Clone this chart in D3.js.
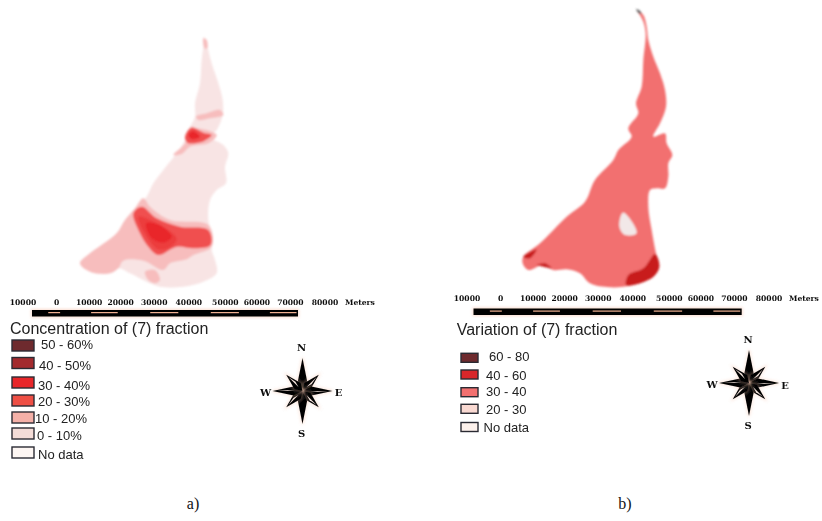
<!DOCTYPE html>
<html>
<head>
<meta charset="utf-8">
<script src="https://cdn.jsdelivr.net/npm/d3@7"></script>
<style>
  html, body { margin: 0; padding: 0; background: #fff; }
  svg { display: block; }
  .legend-title, .legend-label { font-family: "Liberation Sans", Arial, sans-serif; fill: #222; }
  .scale-label, .compass-label { font-family: "DejaVu Serif", serif; font-weight: bold; fill: #111; }
  .panel-label { font-family: "Liberation Serif", serif; font-size: 16px; fill: #111; }
</style>
</head>
<body>
<div id="chart"></div>
<script>
// map shapes are in grid units of 100 m, measured from each panel's own corner
const concentrationOutline = [[432,50],[442,80],[455,130],[475,190],[488,240],[488,285],[470,330],[450,350],[490,375],[505,400],[495,440],[498,490],[470,510],[450,540],[445,600],[455,640],[455,690],[465,720],[470,760],[430,785],[370,800],[300,800],[270,790],[210,760],[175,745],[150,760],[90,755],[60,730],[90,700],[120,680],[170,640],[195,600],[230,565],[260,530],[280,490],[310,450],[350,400],[375,360],[385,330],[405,290],[405,250],[420,190],[425,120],[430,80]];
const concentrationPink = [
  [[60,730],[90,700],[170,640],[195,600],[225,565],[250,535],[270,560],[330,600],[445,615],[455,680],[400,705],[380,718],[330,730],[310,750],[250,722],[190,722],[175,745],[150,760],[90,755]],
  [[255,755],[285,750],[300,780],[285,790],[265,780]],
  [[408,290],[440,280],[480,270],[490,285],[450,295],[415,300]],
  [[340,405],[375,370],[380,340],[395,325],[470,345],[445,370],[390,380],[365,402]],
  [[430,55],[440,60],[442,85],[434,85]]
];
const concentrationRed = [
  [[220,580],[245,560],[290,595],[360,620],[445,630],[452,675],[400,685],[350,680],[295,705],[265,680],[240,640]],
  [[375,352],[395,322],[430,338],[455,345],[425,366],[382,368]]
];
const concentrationMid = [
  [[235,590],[300,615],[350,655],[340,675],[300,690],[270,665]]
];
const concentrationCore = [
  [[258,610],[300,615],[335,650],[310,668],[275,655]],
  [[385,345],[398,332],[420,350],[395,358]]
];

const variationOutline = [[412,30],[430,45],[440,80],[445,120],[460,170],[480,220],[495,270],[498,320],[480,370],[460,410],[495,400],[500,430],[517,465],[505,490],[505,530],[495,565],[470,565],[450,570],[445,620],[455,690],[468,760],[478,800],[460,830],[400,855],[330,862],[270,850],[240,820],[200,808],[160,810],[130,795],[85,810],[68,790],[70,770],[120,730],[200,650],[255,605],[285,540],[340,480],[355,450],[395,410],[385,385],[415,340],[408,310],[425,260],[430,180],[437,100],[430,65]];
const variationHole = [[368,638],[385,650],[410,700],[375,705],[358,680]];
const variationDark = [
  [[465,762],[478,800],[460,830],[400,855],[378,855],[385,825],[430,805]],
  [[70,770],[110,748],[90,775]],
  [[110,795],[135,790],[155,805],[130,800]]
];
const variationTip = [[408,27],[420,33],[424,42],[415,38]];

const scaleTicks = [-10000, 0, 10000, 20000, 30000, 40000, 50000, 60000, 70000, 80000];
const scaleNudge = [0, 0, -1, -3, -3, -2, 1, -1, -1, 0];
const barStripes = [[-4500,-500],[10000,19000],[30000,39500],[50500,60000],[70500,79500]];

const concentrationLabels = ["50 - 60%", "40 - 50%", "30 - 40%", "20 - 30%", "10 - 20%", "0 - 10%", "No data"];
const concentrationColors = ["#6e2a2e", "#a32a2e", "#e8262a", "#ee5045", "#f4b0a8", "#f4dcd8", "#fdf6f3"];
const variationLabels = ["60 - 80", "40 - 60", "30 - 40", "20 - 30", "No data"];
const variationColors = ["#6e2a2e", "#d9262a", "#f27070", "#f9d9d2", "#fdf1ec"];

const directions = ["N", "E", "S", "W"];

const width = 822, height = 521;

const svg = d3.select("#chart").append("svg")
  .attr("width", width).attr("height", height);

const defs = svg.append("defs");
function addBlur(id, amount){
  defs.append("filter").attr("id", id)
    .attr("x", "-20%").attr("y", "-20%").attr("width", "140%").attr("height", "140%")
    .append("feGaussianBlur").attr("stdDeviation", amount);
}
addBlur("soft", 1.0);
addBlur("halo", 1.6);
addBlur("print", 0.35);

// MAPS ------------------------
function drawMap(originX, originY, layers){
  const x = d3.scaleLinear().domain([0, 1000]).range([originX, originX + 1000/3]);
  const y = d3.scaleLinear().domain([0, 1000]).range([originY, originY + 1000/3]);
  const line = d3.line().x(d => x(d[0])).y(d => y(d[1])).curve(d3.curveCatmullRomClosed.alpha(0.5));
  const g = svg.append("g").attr("filter", "url(#soft)");
  layers.forEach(layer => {
    g.selectAll(null).data(layer.shapes).join("path")
      .attr("d", line)
      .attr("fill", layer.color);
  });
}

drawMap(60, 20, [
  { shapes: [concentrationOutline], color: "#f8e4e4" },
  { shapes: concentrationPink, color: "#f7bdbd" },
  { shapes: concentrationRed, color: "#f05050" },
  { shapes: concentrationMid, color: "#ec3c3e" },
  { shapes: concentrationCore, color: "#e9272b" },
]);

drawMap(500, 0, [
  { shapes: [variationOutline], color: "#f27070" },
  { shapes: [variationHole], color: "#f2e8e8" },
  { shapes: variationDark, color: "#c81f1f" },
  { shapes: [variationTip], color: "#555" },
]);

// SCALE BARS ------------------------
function drawScaleBar({ labelLeft, labelY, barLeft, barRight, barTop }){
  const labelScale = d3.scaleLinear().domain([-10000, 80000]).range([labelLeft, labelLeft + 302]);
  const barScale = d3.scaleLinear().domain([-10000, 80000]).range([barLeft, barRight]);
  const g = svg.append("g").attr("filter", "url(#print)");

  g.selectAll(".scale-label").data(scaleTicks).join("text")
    .attr("class", "scale-label")
    .attr("x", (d, i) => labelScale(d) + scaleNudge[i])
    .attr("y", labelY)
    .attr("text-anchor", "middle")
    .attr("dominant-baseline", "middle")
    .style("font-size", "7.6px")
    .text(d => Math.abs(d));

  g.append("text").attr("class", "scale-label")
    .attr("x", labelScale(80000) + 20).attr("y", labelY)
    .attr("dominant-baseline", "middle")
    .style("font-size", "7.6px")
    .text("Meters");

  g.append("rect")
    .attr("x", barLeft - 1).attr("y", barTop - 1)
    .attr("width", barRight - barLeft + 2).attr("height", 8.5)
    .attr("fill", "#f8cdbb").attr("opacity", 0.7).attr("filter", "url(#halo)");
  g.append("rect")
    .attr("x", barLeft).attr("y", barTop)
    .attr("width", barRight - barLeft).attr("height", 6.5)
    .attr("fill", "#050505");
  g.selectAll(".stripe").data(barStripes).join("rect")
    .attr("class", "stripe")
    .attr("x", d => barScale(d[0]))
    .attr("y", barTop + 2)
    .attr("width", d => barScale(d[1]) - barScale(d[0]))
    .attr("height", 1.2)
    .attr("fill", "#f0b090");
}

drawScaleBar({ labelLeft: 23, labelY: 302.7, barLeft: 32, barRight: 298, barTop: 310 });
drawScaleBar({ labelLeft: 467, labelY: 298.7, barLeft: 473.5, barRight: 741.7, barTop: 308.5 });

// LEGENDS ------------------------
function drawLegend({ title, titleX, titleY, labels, colors, swatchX, swatchW, swatchH, swatchY, labelX, labelY }){
  const g = svg.append("g").attr("filter", "url(#print)");
  g.append("text").attr("class", "legend-title")
    .attr("x", titleX).attr("y", titleY)
    .attr("dominant-baseline", "middle")
    .style("font-size", "16px")
    .text(title);

  const rows = g.selectAll(".row").data(labels).join("g").attr("class", "row");
  rows.append("rect")
    .attr("x", swatchX).attr("y", (d, i) => swatchY[i])
    .attr("width", swatchW).attr("height", swatchH)
    .attr("fill", (d, i) => colors[i])
    .attr("stroke", "#2b2b33").attr("stroke-width", 1.4);
  rows.append("text").attr("class", "legend-label")
    .attr("x", (d, i) => labelX[i]).attr("y", (d, i) => labelY[i])
    .attr("dominant-baseline", "middle")
    .style("font-size", "13px")
    .text(d => d);
}

drawLegend({
  title: "Concentration of (7) fraction", titleX: 10, titleY: 329.5,
  labels: concentrationLabels, colors: concentrationColors,
  swatchX: 12, swatchW: 22, swatchH: 11,
  swatchY: [340, 357.5, 377, 395, 412, 428, 447],
  labelX: [41, 39, 38, 38, 35, 37, 38],
  labelY: [346, 367, 387, 403, 420, 437, 456],
});

drawLegend({
  title: "Variation of (7) fraction", titleX: 456.7, titleY: 331,
  labels: variationLabels, colors: variationColors,
  swatchX: 461, swatchW: 17, swatchH: 9,
  swatchY: [353.3, 370, 387.7, 404.3, 422.5],
  labelX: [489, 486, 486, 486, 483.5],
  labelY: [357.5, 376.5, 393, 411, 428.5],
});

// COMPASS ------------------------
function drawCompass({ cx, cy, labelOffsets }){
  const g = svg.append("g").attr("transform", `translate(${cx},${cy})`).attr("filter", "url(#print)");
  const points = d3.range(8).map(i => ({
    angle: i * 45,
    length: i % 2 === 0 ? (i % 4 === 0 ? 33 : 30) : 23,
    half: i % 2 === 0 ? 4.6 : 4.4,
    sliver: i % 4 === 2 ? 0.7 : i % 2 === 1 ? 1.5 : 0,
  }));
  const kite = d => `M0,0L${d.half},${-d.length * 0.3}L0,${-d.length}L${-d.half},${-d.length * 0.3}Z`;
  const sliver = d => `M0,${-d.length * 0.25}L${d.sliver},${-d.length * 0.5}L0,${-d.length * 0.85}Z`;

  const arms = g.selectAll(".arm").data(points).join("g")
    .attr("class", "arm")
    .attr("transform", d => `rotate(${d.angle})`);

  arms.append("path").attr("d", kite)
    .attr("fill", "none").attr("stroke", "#f8c8b0").attr("stroke-width", 2)
    .attr("opacity", 0.45).attr("filter", "url(#halo)");
  arms.append("path").attr("d", kite).attr("fill", "#050505");
  arms.filter(d => d.sliver > 0).append("path").attr("d", sliver).attr("fill", "#f8e8e0");

  g.selectAll(".compass-label").data(directions).join("text")
    .attr("class", "compass-label")
    .attr("x", (d, i) => labelOffsets[i][0])
    .attr("y", (d, i) => labelOffsets[i][1])
    .attr("text-anchor", "middle")
    .attr("dominant-baseline", "middle")
    .style("font-size", "10px")
    .text(d => d);
}

drawCompass({ cx: 302.5, cy: 391, labelOffsets: [[-1,-43],[36,2],[-1,43],[-37,2]] });
drawCompass({ cx: 749, cy: 383, labelOffsets: [[-1,-43],[36,3],[-1,43],[-37,2]] });

// PANEL LABELS ------------------------
svg.selectAll(".panel-label").data([["a)", 193], ["b)", 625]]).join("text")
  .attr("class", "panel-label")
  .attr("x", d => d[1]).attr("y", 509)
  .attr("text-anchor", "middle")
  .text(d => d[0]);
</script>
</body>
</html>
